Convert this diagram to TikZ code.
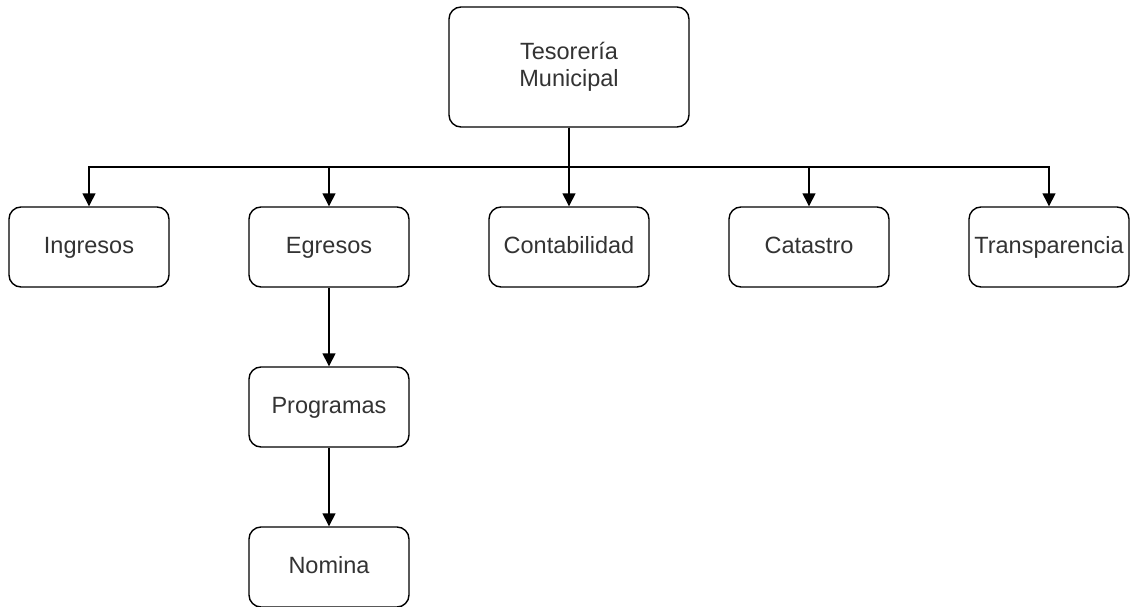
\documentclass[tikz,border=0pt]{standalone}
\usepackage{fontspec}
\setmainfont{Liberation Sans}
\usetikzlibrary{arrows.meta}
\tikzset{
  box/.style={draw=black, line width=1.4pt, rounded corners=12pt, fill=white,
    minimum width=160pt, minimum height=80pt, inner sep=0pt, align=center,
    text=black!80, font=\fontsize{23.5}{27}\selectfont},
  onel/.style={text height=17pt, text depth=5pt},
  arr/.style={line width=1.4pt, -{Triangle[length=13pt,width=13pt]}}
}
\begin{document}
\begin{tikzpicture}[x=1pt,y=-1pt]
\useasboundingbox (0,0) rectangle (1132,607);
\node[box, minimum width=240pt, minimum height=120pt] (top) at (569,67) {Tesorería\\Municipal};
\node[box, onel] (ing) at (89,247) {Ingresos};
\node[box, onel] (egr) at (329,247) {Egresos};
\node[box, onel] (con) at (569,247) {Contabilidad};
\node[box, onel] (cat) at (809,247) {Catastro};
\node[box, onel] (tra) at (1049,247) {Transparencia};
\node[box, onel] (pro) at (329,407) {Programas};
\node[box, onel] (nom) at (329,567) {Nomina};
\coordinate (bus) at (569,167);
\draw[arr] (top.south) -- (con.north);
\draw[arr] (top.south) -- (bus) -| (ing.north);
\draw[arr] (top.south) -- (bus) -| (egr.north);
\draw[arr] (top.south) -- (bus) -| (cat.north);
\draw[arr] (top.south) -- (bus) -| (tra.north);
\draw[arr] (egr.south) -- (pro.north);
\draw[arr] (pro.south) -- (nom.north);
\end{tikzpicture}
\end{document}
